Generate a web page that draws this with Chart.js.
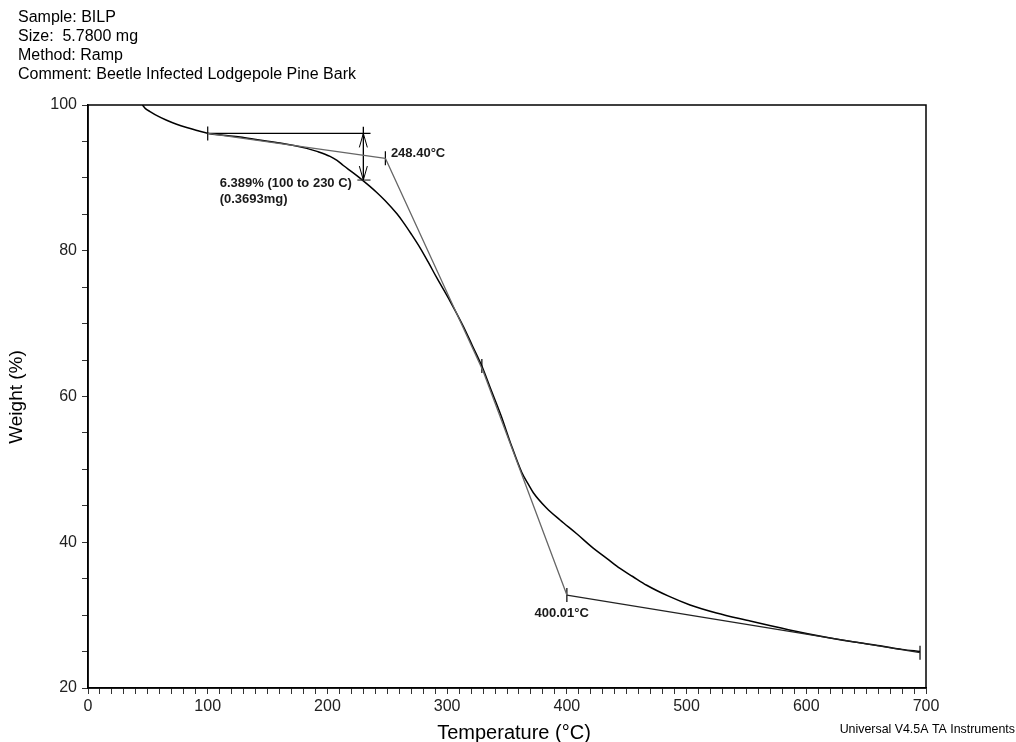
<!DOCTYPE html>
<html>
<head>
<meta charset="utf-8">
<script src="https://cdn.jsdelivr.net/npm/chart.js@4/dist/chart.umd.min.js"></script>
<style>
  body { margin: 0; background: #fff; }
  #wrap { width: 1016px; height: 742px; }
</style>
</head>
<body>
<div id="wrap"><canvas id="tga" width="1016" height="742"></canvas></div>
<script>
// TGA curve: temperature (°C) and weight (%)
const tempC = [45.5, 48, 51.8, 58, 65.7, 74, 82.4, 91, 100.5, 113, 127, 143, 160.4, 172, 182.7, 192, 202.2, 208,
  213.3, 221, 229.2, 235, 241.2, 248.1, 257.9, 263.4, 270, 277.4, 284, 291.3, 302.4, 313.6, 321, 328.9, 336, 345,
  353, 362.3, 368, 372, 383, 394.3, 408, 422, 433.3, 444.4, 455, 466.7, 485, 502.9, 525, 550.3, 585, 619.9, 640,
  661.7, 680, 695];
const weightPct = [100.0, 99.5, 99.1, 98.5, 97.9, 97.35, 96.9, 96.5, 96.1, 95.85, 95.6, 95.2, 94.8, 94.45, 94.05, 93.6, 92.95, 92.4,
  91.7, 90.75, 89.7, 88.9, 88.0, 86.9, 85.1, 83.9, 82.3, 80.4, 78.5, 76.3, 73.1, 69.6, 67.0, 64.2, 61.2, 57.4,
  53.6, 49.6, 47.9, 46.8, 44.7, 43.05, 41.2, 39.2, 37.8, 36.4, 35.3, 34.1, 32.6, 31.4, 30.3, 29.3, 28.0, 26.86, 26.3,
  25.8, 25.3, 25.0];

// step (weight change) analysis 100 -> 230 C
const stepT = [100, 236];
const stepW = [96.1, 96.1];
const stepLowT = [225, 236];
const stepLowW = [89.7, 89.7];
const arrowT = [230, 230];
const arrowW = [97.0, 89.7];
// onset / endset tangents
const baseT = [100, 248.4];
const baseW = [96.1, 92.69];
const tanT = [248.4, 330, 400.01];
const tanW = [92.69, 63.5, 32.75];
const tailT = [400.01, 695];
const tailW = [32.75, 24.85];
// small vertical markers
const markT = [100, 248.4, 329, 400.01, 695];
const markW = [96.1, 92.69, 64.2, 32.75, 24.85];

// text labels
const headerLines = ["Sample: BILP", "Size:  5.7800 mg", "Method: Ramp", "Comment: Beetle Infected Lodgepole Pine Bark"];
const noteText = ["248.40°C", "6.389% (100 to 230 C)", "(0.3693mg)", "400.01°C"];
const noteT = [253, 110, 110, 373];
const noteW = [93.3, 89.2, 87.0, 30.3];

const FONT = "'Liberation Sans', Arial, sans-serif";

function pts(xs, ys) {
  return xs.map((x, i) => ({ x: x, y: ys[i] }));
}
function lineSet(xs, ys, color, width) {
  return { data: pts(xs, ys), showLine: true, pointRadius: 0, borderColor: color, borderWidth: width, tension: 0 };
}

// frame, texts and arrow heads
const extras = {
  id: 'extras',
  afterDraw(chart) {
    const ctx = chart.ctx, a = chart.chartArea;
    const xs = chart.scales.x, ys = chart.scales.y;
    ctx.save();
    ctx.strokeStyle = '#000';
    ctx.lineWidth = 1.5;
    ctx.strokeRect(a.left, a.top, a.right - a.left, a.bottom - a.top);

    ctx.fillStyle = '#000';
    ctx.font = '16px ' + FONT;
    ctx.textBaseline = 'middle';
    ctx.textAlign = 'left';
    headerLines.forEach((t, i) => ctx.fillText(t, 18, 18 + i * 19));

    ctx.font = '20px ' + FONT;
    ctx.textAlign = 'center';
    ctx.fillText('Temperature (°C)', 514, 733);
    ctx.save();
    ctx.translate(17, 397);
    ctx.rotate(-Math.PI / 2);
    ctx.font = '19px ' + FONT;
    ctx.fillText('Weight (%)', 0, 0);
    ctx.restore();

    ctx.font = '12.4px ' + FONT;
    ctx.textAlign = 'right';
    ctx.fillText('Universal V4.5A TA Instruments', 1015, 730);

    ctx.font = 'bold 13px ' + FONT;
    ctx.textAlign = 'left';
    ctx.fillStyle = '#1a1a1a';
    noteText.forEach((t, i) => ctx.fillText(t, xs.getPixelForValue(noteT[i]), ys.getPixelForValue(noteW[i])));

    // double arrow heads on the step
    const ax = xs.getPixelForValue(arrowT[0]);
    const top = ys.getPixelForValue(stepW[0]);
    const bot = ys.getPixelForValue(stepLowW[0]);
    ctx.strokeStyle = '#000';
    ctx.lineWidth = 1;
    ctx.beginPath();
    ctx.moveTo(ax - 4, top + 14); ctx.lineTo(ax, top); ctx.lineTo(ax + 4, top + 14);
    ctx.moveTo(ax - 4, bot - 14); ctx.lineTo(ax, bot); ctx.lineTo(ax + 4, bot - 14);
    ctx.stroke();
    ctx.restore();
  }
};

const curve = lineSet(tempC, weightPct, '#000', 1.5);
curve.cubicInterpolationMode = 'monotone';

new Chart(document.getElementById('tga'), {
  type: 'scatter',
  data: {
    datasets: [
      lineSet(baseT, baseW, '#666', 1.3),
      lineSet(tanT, tanW, '#666', 1.3),
      lineSet(tailT, tailW, '#222', 1.2),
      lineSet(stepT, stepW, '#000', 1.3),
      lineSet(stepLowT, stepLowW, '#333', 1.2),
      lineSet(arrowT, arrowW, '#000', 1.3),
      curve,
      { data: pts(markT, markW), pointStyle: 'line', rotation: 90, radius: 7, borderColor: '#000', borderWidth: 1.2, showLine: false }
    ]
  },
  options: {
    responsive: false,
    animation: false,
    events: [],
    layout: { padding: { top: 105, right: 90, left: 0, bottom: 0 } },
    plugins: { legend: { display: false }, tooltip: { enabled: false } },
    scales: {
      x: {
        type: 'linear', min: 0, max: 700,
        afterFit(s) { s.height = 54; },
        border: { display: true, color: '#000', width: 1.5 },
        grid: { drawOnChartArea: false, drawTicks: true, tickLength: 6, color: '#333' },
        ticks: {
          stepSize: 10, autoSkip: false, maxTicksLimit: 200, maxRotation: 0, padding: 3,
          color: '#222', font: { family: FONT, size: 16 },
          callback: v => (v % 100 === 0 ? v : '')
        }
      },
      y: {
        type: 'linear', min: 20, max: 100,
        afterFit(s) { s.width = 88; },
        border: { display: true, color: '#000', width: 1.5 },
        grid: { drawOnChartArea: false, drawTicks: true, tickLength: 6, color: '#333' },
        ticks: {
          stepSize: 5, autoSkip: false, maxTicksLimit: 200, padding: 5,
          color: '#222', font: { family: FONT, size: 16 },
          callback: v => (v % 20 === 0 ? v : '')
        }
      }
    }
  },
  plugins: [extras]
});
</script>
</body>
</html>
